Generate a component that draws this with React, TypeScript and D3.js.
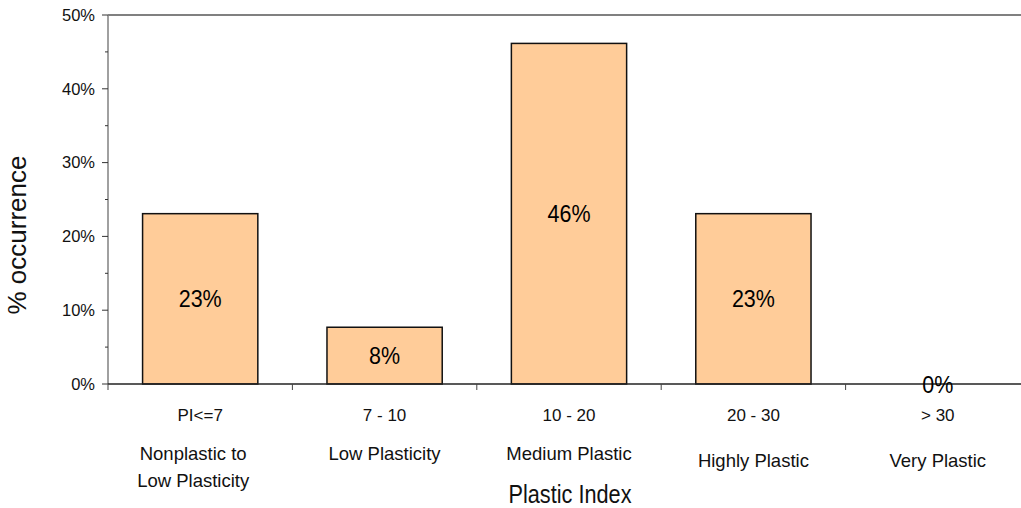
import React from "react";
import * as d3 from "d3";

// Plasticity classes and their share of samples
const ranges = ["PI<=7", "7 - 10", "10 - 20", "20 - 30", "> 30"];
const classNames = [
  ["Nonplastic to", "Low Plasticity"],
  ["Low Plasticity"],
  ["Medium Plastic"],
  ["Highly Plastic"],
  ["Very Plastic"],
];
const occurrence = [23.08, 7.69, 46.15, 23.08, 0];
const valueLabels = ["23%", "8%", "46%", "23%", "0%"];
const yTicks = [0, 10, 20, 30, 40, 50];

const W = 1021;
const H = 508;
const left = 108;
const right = 1030;
const top = 15;
const bottom = 384;
const font = "'Liberation Sans', Arial, sans-serif";

export default function App() {
  const x = d3
    .scaleBand<number>()
    .domain(d3.range(ranges.length))
    .range([left, right])
    .paddingInner(0.375)
    .paddingOuter(0.1875);
  const y = d3.scaleLinear().domain([0, 50]).range([bottom, top]);
  const step = x.step();
  const minor = d3.range(5, 50, 10);
  const boundaries = d3.range(ranges.length + 1).map((i) => left + i * step);
  // class-name baselines (the last two classes sit a little lower)
  const nameY = [460, 460, 460, 467, 467];

  return (
    <svg
      width={W}
      height={H}
      style={{ position: "absolute", left: 0, top: 0, fontFamily: font }}
    >
      <rect width={W} height={H} fill="#fff" />
      {/* plot frame top */}
      <line x1={left} x2={W} y1={top} y2={top} stroke="#808080" strokeWidth={2} />
      {/* y axis */}
      <line x1={left} x2={left} y1={top} y2={bottom} stroke="#808080" strokeWidth={1.5} />
      {yTicks.map((t) => (
        <g key={t}>
          <line x1={left - 6} x2={left} y1={y(t)} y2={y(t)} stroke="#333" />
          <text
            x={left - 13}
            y={y(t)}
            dy="0.35em"
            textAnchor="end"
            fontSize={16.5}
            fill="#111"
          >
            {t}%
          </text>
        </g>
      ))}
      {minor.map((t) => (
        <line key={t} x1={left - 3} x2={left} y1={y(t)} y2={y(t)} stroke="#333" />
      ))}
      {/* bars */}
      {occurrence.map((v, i) =>
        v > 0 ? (
          <rect
            key={i}
            x={x(i)}
            y={y(v)}
            width={x.bandwidth()}
            height={y(0) - y(v)}
            fill="#FFCC99"
            stroke="#111"
            strokeWidth={1.5}
          />
        ) : null
      )}
      {/* x axis */}
      <line x1={left} x2={W} y1={bottom} y2={bottom} stroke="#222" strokeWidth={1.5} />
      {boundaries.map((b, i) => (
        <line key={i} x1={b} x2={b} y1={bottom} y2={bottom + 6} stroke="#444" />
      ))}
      {/* value labels */}
      {occurrence.map((v, i) => (
        <text
          key={i}
          transform={`translate(${(x(i) as number) + x.bandwidth() / 2},${
            (y(v) + y(0)) / 2
          }) scale(1,1.15)`}
          dy="0.35em"
          textAnchor="middle"
          fontSize={21.5}
          fill="#000"
        >
          {valueLabels[i]}
        </text>
      ))}
      {/* category labels */}
      {ranges.map((r, i) => {
        const cx = (x(i) as number) + x.bandwidth() / 2;
        return (
          <g key={i}>
            <text x={cx} y={421} textAnchor="middle" fontSize={17} fill="#111">
              {r}
            </text>
            {classNames[i].map((n, j) => (
              <text
                key={j}
                x={i === 0 ? cx - 7 : cx}
                y={nameY[i] + j * 27}
                textAnchor="middle"
                fontSize={18.5}
                fill="#111"
              >
                {n}
              </text>
            ))}
          </g>
        );
      })}
      {/* axis titles */}
      <text
        transform="translate(570,503) scale(1,1.15)"
        textAnchor="middle"
        fontSize={21.7}
        fill="#111"
      >
        Plastic Index
      </text>
      <text
        transform="translate(26,235) rotate(-90)"
        textAnchor="middle"
        fontSize={26}
        fill="#111"
      >
        % occurrence
      </text>
    </svg>
  );
}
